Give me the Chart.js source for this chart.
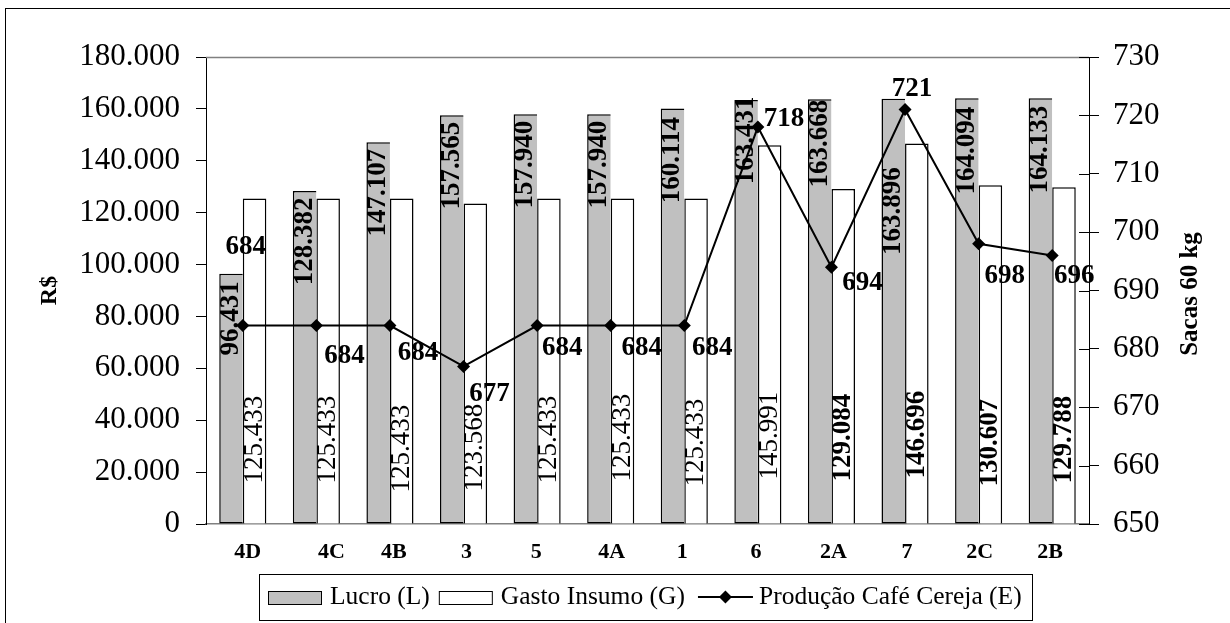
<!DOCTYPE html>
<html>
<head>
<meta charset="utf-8">
<script src="https://cdn.jsdelivr.net/npm/chart.js@4.4.1/dist/chart.umd.min.js"></script>
<style>
  html, body { margin: 0; padding: 0; background: #fff; }
  #wrap { width: 1230px; height: 623px; position: relative; }
</style>
</head>
<body>
<div id="wrap"><canvas id="c" width="1230" height="623"></canvas></div>
<script>
// ---- data ----
const categories = ['4D', '4C', '4B', '3', '5', '4A', '1', '6', '2A', '7', '2C', '2B'];
const lucro    = [96431, 128382, 147107, 157565, 157940, 157940, 160114, 163431, 163668, 163896, 164094, 164133];
const gasto    = [125433, 125433, 125433, 123568, 125433, 125433, 125433, 145991, 129084, 146696, 130607, 129788];
const producao = [684, 684, 684, 677, 684, 684, 684, 718, 694, 721, 698, 696];

const leftAxis  = { min: 0,   max: 180000, step: 20000 };
const rightAxis = { min: 650, max: 730,    step: 10 };

const seriesNames = ['Lucro (L)', 'Gasto Insumo (G)', 'Produção Café Cereja (E)'];
const leftTitle  = 'R$';
const rightTitle = 'Sacas 60 kg';

// ---- label placement nudges (px) ----
const categoryLabelShift = [5, 15, 4, 3, -1, 1, -2, -2, 2, 2, 1, -2];
const lucroLabelGap  = [7.5, 6.5, 6.5, 6.5, 6.5, 6.5, 8.5, -3.5, 0.5, 68.5, 8.5, 7.5];   // bar top -> text end
const gastoLabelLift = [40, 40, 31, 32, 40, 42, 37, 44, 42, 45, 37, 40];                 // axis -> text start
const gastoLabelBold = [false, false, false, false, false, false, false, false, true, true, true, true];
const prodLabelShift = [[3, -78], [28, 31], [28, 28], [26, 28], [25, 23], [31, 23], [28, 23],
                        [26, -8], [31, 16], [7, -21], [26, 32], [22, 21]];

const SERIF = "'Liberation Serif', 'Times New Roman', serif";
const fmt = n => String(n).replace(/\B(?=(\d{3})+(?!\d))/g, '.');

const decor = {
  id: 'decor',
  afterDatasetsDraw(chart) {
    const ctx = chart.ctx;
    ctx.save();
    ctx.fillStyle = '#000';

    // Lucro values, vertical, hanging from the bar top
    const m0 = chart.getDatasetMeta(0);
    ctx.font = `bold 27px ${SERIF}`;
    m0.data.forEach((el, i) => {
      ctx.save();
      ctx.translate(el.x, el.y + lucroLabelGap[i]);
      ctx.rotate(-Math.PI / 2);
      ctx.textAlign = 'right';
      ctx.textBaseline = 'middle';
      ctx.fillText(fmt(lucro[i]), 0, 0);
      ctx.restore();
    });

    // Gasto values, vertical, near the base
    const m1 = chart.getDatasetMeta(1);
    m1.data.forEach((el, i) => {
      ctx.save();
      ctx.font = `${gastoLabelBold[i] ? 'bold ' : ''}27px ${SERIF}`;
      ctx.translate(el.x, el.base - gastoLabelLift[i]);
      ctx.rotate(-Math.PI / 2);
      ctx.textAlign = 'left';
      ctx.textBaseline = 'middle';
      ctx.fillText(fmt(gasto[i]), 0, 0);
      ctx.restore();
    });

    // Produção values beside the markers
    const m2 = chart.getDatasetMeta(2);
    ctx.font = `bold 27px ${SERIF}`;
    ctx.textAlign = 'center';
    ctx.textBaseline = 'middle';
    m2.data.forEach((el, i) => {
      ctx.fillText(String(producao[i]), el.x + prodLabelShift[i][0], el.y + prodLabelShift[i][1]);
    });
    ctx.restore();
  },
  afterDraw(chart) {
    const ctx = chart.ctx;
    const a = chart.chartArea;
    ctx.save();

    // outer frame
    ctx.strokeStyle = '#000';
    ctx.lineWidth = 1;
    ctx.strokeRect(5.5, 8.5, 1240, 640);

    // plot area top edge
    ctx.strokeStyle = '#808080';
    ctx.lineWidth = 1.5;
    ctx.beginPath();
    ctx.moveTo(a.left, a.top + 0.5);
    ctx.lineTo(a.right, a.top + 0.5);
    ctx.stroke();

    // inner half of the right-axis ticks
    const y1 = chart.scales.y1;
    ctx.strokeStyle = '#000';
    ctx.lineWidth = 1;
    y1.ticks.forEach(t => {
      const yy = Math.round(y1.getPixelForValue(t.value)) + 0.5;
      ctx.beginPath();
      ctx.moveTo(a.right - 10, yy);
      ctx.lineTo(a.right, yy);
      ctx.stroke();
    });

    // category labels
    const xs = chart.scales.x;
    ctx.fillStyle = '#000';
    ctx.font = `bold 22px ${SERIF}`;
    ctx.textAlign = 'center';
    ctx.textBaseline = 'middle';
    categories.forEach((c, i) => {
      ctx.fillText(c, xs.getPixelForTick(i) + categoryLabelShift[i], a.bottom + 28);
    });

    // axis titles
    ctx.save();
    ctx.font = `bold 24px ${SERIF}`;
    ctx.translate(50, (a.top + a.bottom) / 2);
    ctx.rotate(-Math.PI / 2);
    ctx.fillText(leftTitle, 0, 0);
    ctx.restore();
    ctx.save();
    ctx.font = `bold 25px ${SERIF}`;
    ctx.translate(1191, 294);
    ctx.rotate(-Math.PI / 2);
    ctx.fillText(rightTitle, 0, 0);
    ctx.restore();

    // legend
    ctx.lineWidth = 1;
    ctx.strokeStyle = '#000';
    ctx.strokeRect(259.5, 574.5, 773, 46);
    ctx.font = `25.5px ${SERIF}`;
    ctx.textAlign = 'left';
    const ly = 597.5;
    let x = 268;
    const ds = chart.data.datasets;
    [0, 1].forEach(k => {
      ctx.fillStyle = ds[k].backgroundColor;
      ctx.fillRect(x, 591, 53, 13);
      ctx.strokeRect(x + 0.5, 591.5, 53, 13);
      x += 53 + 9;
      ctx.fillStyle = '#000';
      ctx.fillText(ds[k].label, x, ly);
      x += ctx.measureText(ds[k].label).width + (k === 0 ? 9 : 13);
    });
    ctx.lineWidth = 2;
    ctx.beginPath();
    ctx.moveTo(x, 597);
    ctx.lineTo(x + 55, 597);
    ctx.stroke();
    const cx = x + 27.5, r = 6.5;
    ctx.beginPath();
    ctx.moveTo(cx, 597 - r);
    ctx.lineTo(cx + r, 597);
    ctx.lineTo(cx, 597 + r);
    ctx.lineTo(cx - r, 597);
    ctx.closePath();
    ctx.fill();
    x += 55 + 6;
    ctx.fillText(ds[2].label, x, ly);

    ctx.restore();
  }
};

new Chart(document.getElementById('c'), {
  data: {
    labels: categories,
    datasets: [
      {
        type: 'bar', label: seriesNames[0], data: lucro, yAxisID: 'y', order: 2,
        backgroundColor: '#C0C0C0', borderColor: '#000', borderWidth: 1.5, borderSkipped: 'right',
        categoryPercentage: 0.64, barPercentage: 1.0
      },
      {
        type: 'bar', label: seriesNames[1], data: gasto, yAxisID: 'y', order: 2,
        backgroundColor: '#FFFFFF', borderColor: '#000', borderWidth: 1.5, borderSkipped: 'bottom',
        categoryPercentage: 0.64, barPercentage: 1.0
      },
      {
        type: 'line', label: seriesNames[2], data: producao, yAxisID: 'y1', order: 0,
        borderColor: '#000', borderWidth: 2, tension: 0, fill: false,
        pointStyle: 'rectRot', pointRadius: 6.5, pointBackgroundColor: '#000', pointBorderColor: '#000',
        pointBorderWidth: 0
      }
    ]
  },
  options: {
    responsive: false,
    animation: false,
    events: [],
    layout: { padding: { left: 0, right: 0, top: 57, bottom: 0 } },
    plugins: { legend: { display: false }, tooltip: { enabled: false } },
    scales: {
      x: {
        type: 'category',
        grid: { display: false, drawTicks: false },
        border: { display: true, color: '#808080', width: 1.5 },
        ticks: { display: false },
        afterFit(s) { s.height = 99; }
      },
      y: {
        position: 'left',
        min: leftAxis.min, max: leftAxis.max,
        grid: { drawOnChartArea: false, color: '#000', tickLength: 10 },
        border: { display: true, color: '#000', width: 1 },
        ticks: { stepSize: leftAxis.step, color: '#000', padding: 16,
                 font: { family: SERIF, size: 31 }, callback: v => fmt(v) },
        afterFit(s) { s.width = 206; }
      },
      y1: {
        position: 'right',
        min: rightAxis.min, max: rightAxis.max,
        grid: { drawOnChartArea: false, color: '#000', tickLength: 10 },
        border: { display: true, color: '#000', width: 1 },
        ticks: { stepSize: rightAxis.step, color: '#000', padding: 14,
                 font: { family: SERIF, size: 31 } },
        afterFit(s) { s.width = 141; }
      }
    }
  },
  plugins: [decor]
});
</script>
</body>
</html>
